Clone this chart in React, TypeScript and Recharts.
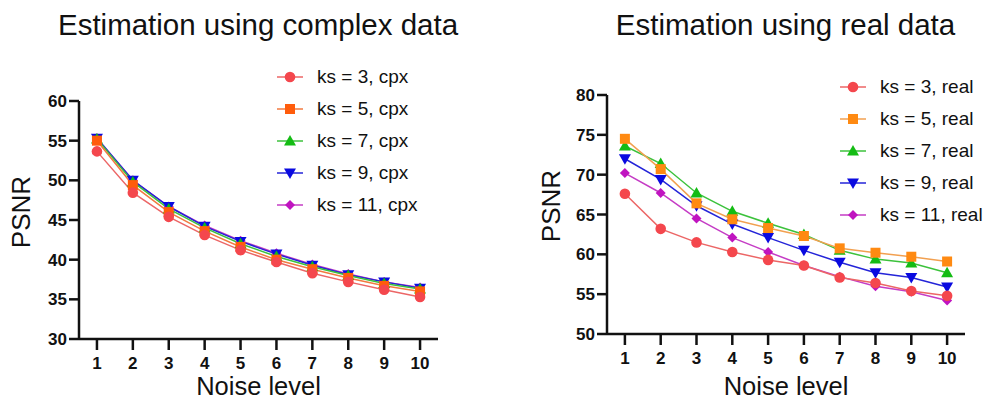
import React from "react";
import { LineChart, Line, XAxis, YAxis, Legend } from "recharts";

const noiseLevels = [1, 2, 3, 4, 5, 6, 7, 8, 9, 10];
const kernelSizes = [3, 5, 7, 9, 11];

const complexKs3 = [53.65, 48.45, 45.4, 43.1, 41.2, 39.7, 38.3, 37.2, 36.2, 35.3];
const complexKs5 = [55.0, 49.4, 46.0, 43.6, 41.6, 40.0, 38.8, 37.7, 36.7, 36.0];
const complexKs7 = [55.2, 49.8, 46.4, 44.0, 42.0, 40.4, 39.1, 38.0, 37.0, 36.3];
const complexKs9 = [55.3, 50.0, 46.7, 44.2, 42.3, 40.7, 39.3, 38.1, 37.2, 36.4];
const complexKs11 = [55.3, 50.0, 46.7, 44.3, 42.4, 40.8, 39.4, 38.2, 37.2, 36.5];

const realKs3 = [67.6, 63.2, 61.5, 60.3, 59.3, 58.6, 57.1, 56.4, 55.4, 54.8];
const realKs5 = [74.5, 70.7, 66.4, 64.4, 63.3, 62.3, 60.75, 60.2, 59.7, 59.1];
const realKs7 = [73.6, 71.4, 67.7, 65.4, 63.9, 62.5, 60.5, 59.4, 58.9, 57.7];
const realKs9 = [72.0, 69.4, 66.1, 63.8, 62.1, 60.5, 59.0, 57.7, 57.1, 55.9];
const realKs11 = [70.2, 67.7, 64.5, 62.1, 60.3, 58.6, 57.2, 56.0, 55.3, 54.2];

const complexTicks = [30, 35, 40, 45, 50, 55, 60];
const realTicks = [50, 55, 60, 65, 70, 75, 80];

type Shape = "circle" | "square" | "triangle" | "triangleDown" | "diamond";
const shapes: Shape[] = ["circle", "square", "triangle", "triangleDown", "diamond"];

const complexColors = ["#F4474D", "#FF5C0C", "#14BC14", "#0A0AE0", "#C014C0"];
const complexLineColors = ["#EC6666", "#F27A40", "#3CC23C", "#2424D8", "#C53CC5"];
const realColors = ["#F4474D", "#FF8A12", "#14BC14", "#0A0AE0", "#C014C0"];
const realLineColors = ["#EC6666", "#F2A050", "#3CC23C", "#2424D8", "#C53CC5"];

const font = '"Liberation Sans", Arial, sans-serif';

const Marker = ({ cx, cy, shape, fill }: { cx: number; cy: number; shape: Shape; fill: string }) => {
  if (cx == null || cy == null) return null;
  if (shape === "circle") return <circle cx={cx} cy={cy} r={5.3} fill={fill} />;
  if (shape === "square") return <rect x={cx - 5} y={cy - 5} width={10} height={10} fill={fill} />;
  if (shape === "triangle")
    return <polygon points={`${cx},${cy - 6} ${cx - 6},${cy + 4.5} ${cx + 6},${cy + 4.5}`} fill={fill} />;
  if (shape === "triangleDown")
    return <polygon points={`${cx},${cy + 6} ${cx - 6},${cy - 4.5} ${cx + 6},${cy - 4.5}`} fill={fill} />;
  return <polygon points={`${cx},${cy - 5} ${cx + 5},${cy} ${cx},${cy + 5} ${cx - 5},${cy}`} fill={fill} />;
};

const makeRows = (lists: number[][]) =>
  noiseLevels.map((x, i) => {
    const row: Record<string, number> = { x };
    kernelSizes.forEach((k, j) => (row["ks" + k] = lists[j][i]));
    return row;
  });

const complexRows = makeRows([complexKs3, complexKs5, complexKs7, complexKs9, complexKs11]);
const realRows = makeRows([realKs3, realKs5, realKs7, realKs9, realKs11]);

type PanelProps = {
  title: string;
  suffix: string;
  rows: Record<string, number>[];
  colors: string[];
  lineColors: string[];
  domain: [number, number];
  ticks: number[];
  left: number;
  width: number;
  margin: { top: number; right: number; bottom: number; left: number };
  legendTop: number;
  legendLeft: number;
  titleCenter: number;
  labelCenter: number;
  psnrX: number;
  psnrY: number;
};

const Panel = (p: PanelProps) => {
  const axisStyle = { stroke: "#111", strokeWidth: 2.5 };
  const tickStyle = { fill: "#111", fontSize: 17, fontWeight: "bold", fontFamily: font };
  const series = kernelSizes.map((k, i) => ({
    key: "ks" + k,
    name: `ks = ${k}, ${p.suffix}`,
    shape: shapes[i],
    color: p.colors[i],
    lineColor: p.lineColors[i],
  }));

  const renderLegend = () => (
    <div style={{ fontFamily: font, fontSize: 19, color: "#111" }}>
      {series.map((s) => (
        <div key={s.key} style={{ display: "flex", alignItems: "center", height: 32, whiteSpace: "nowrap" }}>
          <svg width={26} height={14} style={{ marginRight: 14 }}>
            <line x1={0} y1={7} x2={26} y2={7} stroke={s.lineColor} strokeWidth={1.5} />
            <Marker cx={13} cy={7} shape={s.shape} fill={s.color} />
          </svg>
          <span>{s.name}</span>
        </div>
      ))}
    </div>
  );

  return (
    <>
      <div
        style={{
          position: "absolute",
          left: p.titleCenter - 250,
          width: 500,
          top: 10,
          textAlign: "center",
          fontSize: 29.5,
          lineHeight: 1,
          color: "#111",
          whiteSpace: "nowrap",
        }}
      >
        {p.title}
      </div>
      <div style={{ position: "absolute", left: p.left, top: 0 }}>
        <LineChart width={p.width} height={403} data={p.rows} margin={p.margin}>
          <XAxis
            type="number"
            dataKey="x"
            domain={[0.5, 10.5]}
            ticks={noiseLevels}
            interval={0}
            height={40}
            tickSize={11}
            tickMargin={7}
            axisLine={axisStyle}
            tickLine={axisStyle}
            tick={tickStyle}
          />
          <YAxis
            type="number"
            domain={p.domain}
            ticks={p.ticks}
            interval={0}
            width={50}
            tickSize={10}
            tickMargin={2}
            axisLine={axisStyle}
            tickLine={axisStyle}
            tick={tickStyle}
          />
          <Legend
            layout="vertical"
            align="center"
            verticalAlign="middle"
            content={renderLegend}
            wrapperStyle={{ top: p.legendTop, left: p.legendLeft, width: 200 }}
          />
          {[...series].reverse().map((s) => (
            <Line
              key={s.key}
              dataKey={s.key}
              name={s.name}
              type="linear"
              stroke={s.lineColor}
              strokeWidth={1.5}
              isAnimationActive={false}
              activeDot={false}
              dot={(d: any) => (
                <Marker key={`${s.key}-${d.index}`} cx={d.cx} cy={d.cy} shape={s.shape} fill={s.color} />
              )}
            />
          ))}
        </LineChart>
      </div>
      <div
        style={{
          position: "absolute",
          left: p.labelCenter - 100,
          width: 200,
          top: 376,
          textAlign: "center",
          fontSize: 25.5,
          lineHeight: 0.8,
          color: "#111",
        }}
      >
        Noise level
      </div>
      <div
        style={{
          position: "absolute",
          left: p.psnrX,
          top: p.psnrY,
          fontSize: 26,
          lineHeight: 1,
          color: "#111",
          transform: "translate(-50%, -50%) rotate(-90deg)",
        }}
      >
        PSNR
      </div>
    </>
  );
};

export default function App() {
  return (
    <div
      style={{
        position: "absolute",
        left: 0,
        top: 0,
        width: 989,
        height: 403,
        background: "#fff",
        fontFamily: font,
        overflow: "hidden",
      }}
    >
      <Panel
        title="Estimation using complex data"
        suffix="cpx"
        rows={complexRows}
        colors={complexColors}
        lineColors={complexLineColors}
        domain={[30, 60]}
        ticks={complexTicks}
        left={0}
        width={495}
        margin={{ top: 101, right: 57, bottom: 24, left: 29 }}
        legendTop={61}
        legendLeft={277}
        titleCenter={258}
        labelCenter={258.5}
        psnrX={21}
        psnrY={212}
      />
      <Panel
        title="Estimation using real data"
        suffix="real"
        rows={realRows}
        colors={realColors}
        lineColors={realLineColors}
        domain={[50, 80]}
        ticks={realTicks}
        left={495}
        width={494}
        margin={{ top: 95, right: 24, bottom: 29, left: 62 }}
        legendTop={71}
        legendLeft={345}
        titleCenter={785.5}
        labelCenter={786}
        psnrX={551}
        psnrY={206}
      />
    </div>
  );
}
